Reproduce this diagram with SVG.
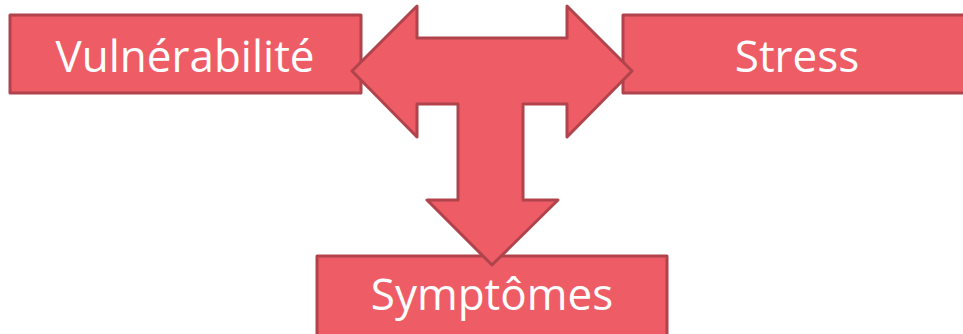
<svg xmlns="http://www.w3.org/2000/svg" width="963" height="334" viewBox="0 0 963 334">
<style>
.box{fill:#EE5D66;stroke:#B0434B;stroke-width:3;stroke-linejoin:round}
.lbl{font-family:"Open Sans","Noto Sans",sans-serif;font-size:44px;fill:#ffffff;text-anchor:middle}
</style>
<rect width="963" height="334" fill="#ffffff"/>
<g id="vulnerabilite">
<rect class="box" x="10" y="15" width="351" height="78"/>
<text class="lbl" x="185" y="72">Vulnérabilité</text>
</g>
<g id="stress">
<rect class="box" x="623" y="15" width="350" height="78"/>
<text class="lbl" x="797" y="72">Stress</text>
</g>
<g id="symptomes">
<rect class="box" x="317" y="256" width="350" height="90"/>
<text class="lbl" x="492" y="310">Symptômes</text>
</g>
<g id="connectors">
<polygon class="box" points="352,71 417,6 417,38 567,38 567,6 632,71 567,137 567,104 523,104 523,200 558,200 492,265 427,200 458,200 458,104 417,104 417,137"/>
</g>
</svg>
